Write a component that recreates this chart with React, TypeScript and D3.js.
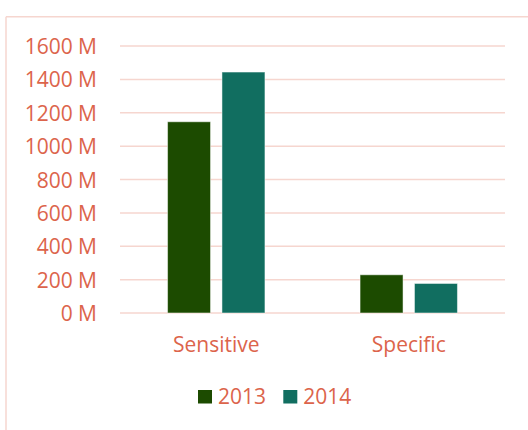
import React from 'react';
import * as d3 from 'd3';

const categories = ['Sensitive', 'Specific'];
const years = ['2013', '2014'];
const values2013 = [1146, 229];
const values2014 = [1444, 177];
const yTicks = [0, 200, 400, 600, 800, 1000, 1200, 1400, 1600];

const colors = ['#1c4b00', '#116e60'];
const textColor = '#dc644b';
const gridColor = '#f6d6cf';
const font = '"Open Sans", sans-serif';

const App = () => {
  const width = 528;
  const height = 430;

  const x = d3.scaleBand<string>()
    .domain(categories)
    .range([120, 505])
    .paddingInner(0.494)
    .paddingOuter(0.247);

  const x1 = d3.scaleBand<string>()
    .domain(years)
    .range([0, x.bandwidth()])
    .paddingInner(0.21);

  const y = d3.scaleLinear()
    .domain([0, 1600])
    .range([313, 46]);

  const series = [values2013, values2014];

  return (
    <svg
      width={width}
      height={height}
      style={{ position: 'absolute', left: 0, top: 0, background: '#fff' }}
      fontFamily={font}
    >
      {/* chart area border, cut off at the right and bottom */}
      <line x1={6} y1={16.8} x2={width} y2={16.8} stroke={gridColor} strokeWidth={1.5} />
      <line x1={6} y1={16.8} x2={6} y2={height} stroke={gridColor} strokeWidth={1.5} />

      {yTicks.map(t => (
        <g key={t}>
          <line x1={120} x2={505} y1={y(t)} y2={y(t)} stroke={gridColor} strokeWidth={1.5} />
          <text
            x={97}
            y={y(t)}
            textAnchor="end"
            dominantBaseline="central"
            fontSize={21}
            fill={textColor}
          >
            {`${t} M`}
          </text>
        </g>
      ))}

      {categories.map((c, i) => (
        <g key={c} transform={`translate(${x(c)},0)`}>
          {years.map((yr, j) => (
            <rect
              key={yr}
              x={x1(yr)}
              y={y(series[j][i])}
              width={x1.bandwidth()}
              height={y(0) - y(series[j][i])}
              fill={colors[j]}
              stroke="#ffffff"
              strokeOpacity={0.5}
              strokeWidth={1}
            />
          ))}
          <text
            x={x.bandwidth() / 2}
            y={352}
            textAnchor="middle"
            fontSize={21}
            fill={textColor}
          >
            {c}
          </text>
        </g>
      ))}

      {years.map((yr, j) => {
        const lx = 198 + j * 85.3;
        return (
          <g key={yr} transform={`translate(${lx},0)`}>
            <rect x={0} y={390} width={14} height={13.5} fill={colors[j]} />
            <text x={20} y={403.5} fontSize={21} fill={textColor}>{yr}</text>
          </g>
        );
      })}
    </svg>
  );
};

export default App;
